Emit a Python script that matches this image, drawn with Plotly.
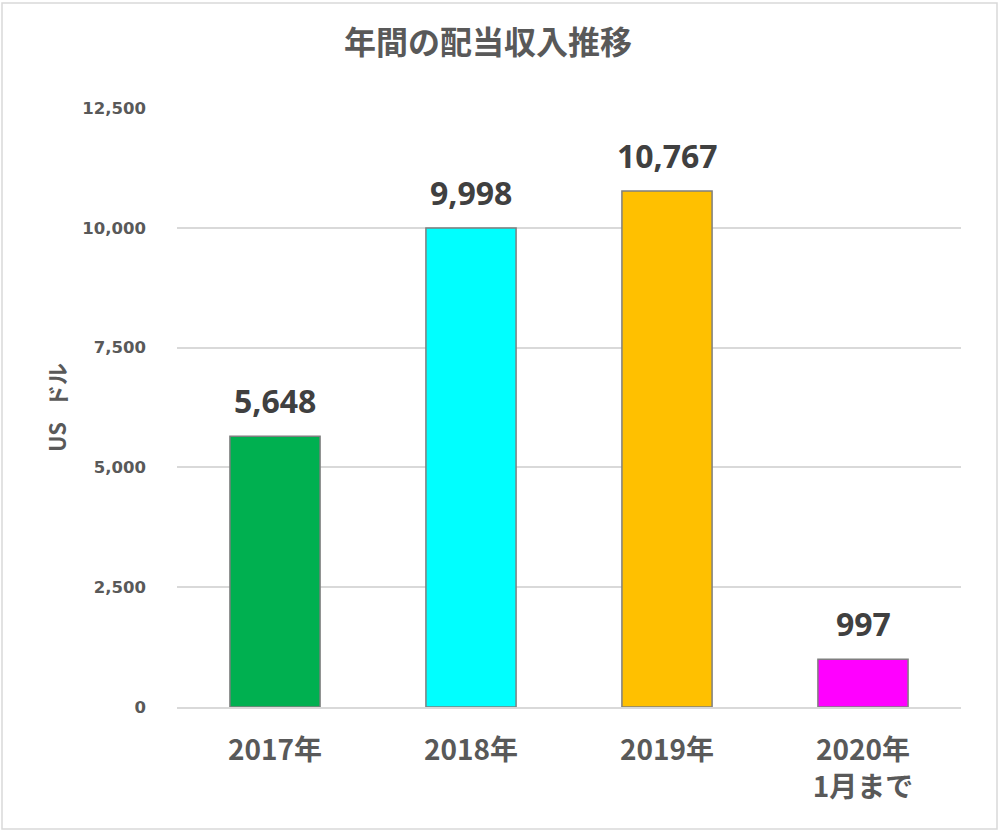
import plotly.graph_objects as go

categories = ["2017年", "2018年", "2019年", "2020年<br>1月まで"]
values = [5648, 9998, 10767, 997]
colors = ["#00B050", "#00FFFF", "#FFC000", "#FF00FF"]
tick_vals = [0, 2500, 5000, 7500, 10000, 12500]
tick_text = ["0", "2,500", "5,000", "7,500", "10,000", "12,500"]

W, H = 1002, 834
L, R, T, B = 177, 41, 108, 127

fig = go.Figure()
fig.add_trace(go.Bar(
    x=categories, y=values,
    marker=dict(color=colors, line=dict(color="#7F7F7F", width=1.5)),
    width=0.46,
    hoverinfo="skip",
))

for c, v in zip(categories, values):
    fig.add_annotation(
        x=c, y=v, text=f"{v:,}", showarrow=False,
        yanchor="bottom", yshift=12,
        font=dict(family="Open Sans, Noto Sans, sans-serif", size=32, color="#404040", weight="bold"),
    )

pw, ph = W - L - R, H - T - B
fig.add_shape(
    type="rect", xref="paper", yref="paper",
    x0=(2 - L) / pw, x1=(997 - L) / pw,
    y0=(H - B - 829) / ph, y1=(H - B - 3) / ph,
    line=dict(color="#D9D9D9", width=1.5), fillcolor="rgba(0,0,0,0)", layer="below",
)

fig.update_layout(
    width=W, height=H,
    margin=dict(l=L, r=R, t=T, b=B),
    paper_bgcolor="white", plot_bgcolor="white",
    showlegend=False,
    title=dict(
        text="年間の配当収入推移", x=488 / W, xanchor="center", y=1 - 43 / H, yanchor="middle",
        font=dict(family="Noto Sans CJK JP", size=32, color="#595959", weight="bold"),
    ),
    xaxis=dict(
        showgrid=False, showline=True, linecolor="#D9D9D9", linewidth=1.5,
        ticks="", ticklabelstandoff=18,
        tickfont=dict(family="Noto Sans CJK JP", size=28, color="#595959", weight="bold"),
    ),
    yaxis=dict(
        range=[0, 12500], tickvals=tick_vals, ticktext=tick_text,
        showgrid=True, gridcolor="#D9D9D9", gridwidth=1.5,
        zeroline=False, showline=False, ticks="", ticklabelstandoff=30,
        tickfont=dict(family="DejaVu Sans, Verdana, sans-serif", size=16.5, color="#595959", weight="bold"),
        title=dict(text="US\u00a0\u00a0\u00a0ドル", standoff=9,
                   font=dict(family="Noto Sans CJK JP", size=22, color="#595959", weight="bold")),
    ),
)

fig.write_html("out.html", config={"displayModeBar": False},
               post_script="document.body.style.margin='0';")
